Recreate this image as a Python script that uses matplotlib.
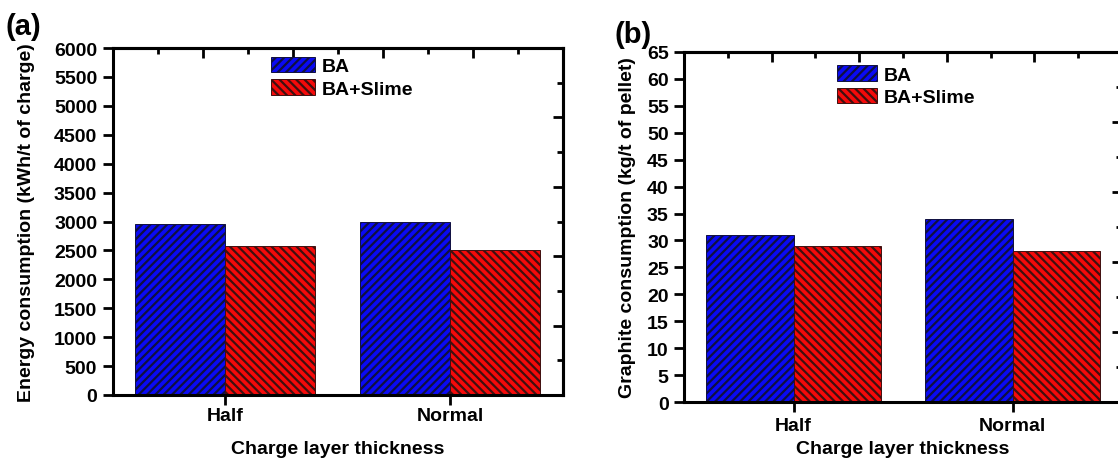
import matplotlib
matplotlib.use('Agg')
import matplotlib.pyplot as plt
import numpy as np
from matplotlib.ticker import NullFormatter

categories = ['Half', 'Normal']
series_names = ['BA', 'BA+Slime']
energy_ba = [2960, 3000]
energy_slime = [2570, 2500]
graphite_ba = [31, 34]
graphite_slime = [29, 28]

plt.rcParams['font.family'] = ['Liberation Sans', 'DejaVu Sans']
plt.rcParams['font.weight'] = 'bold'
plt.rcParams['axes.labelweight'] = 'bold'
plt.rcParams['hatch.linewidth'] = 1.6
plt.rcParams['hatch.color'] = 'black'
plt.rcParams['font.size'] = 14

W, H = 1118, 460
fig = plt.figure(figsize=(W / 100, H / 100), dpi=100)


def pos(l, r, t, b):
    return [l / W, 1 - b / H, (r - l) / W, (b - t) / H]


BLUE = '#0a0af5'
RED = '#f50a0a'
FS = 14


def panel(rect, ba, sl, ymax, ystep, ylabel, ylabelpad, legxy, hl, tag, tagxy,
          xpad, xlabpad):
    ax = fig.add_axes(rect)
    x = np.arange(1, len(categories) + 1)
    w = 0.4
    ax.bar(x - w / 2, ba, w, color=BLUE, edgecolor='#101040', hatch='////',
           linewidth=0.7, label=series_names[0])
    ax.bar(x + w / 2, sl, w, color=RED, edgecolor='#401010', hatch='\\\\\\\\',
           linewidth=0.7, label=series_names[1])
    ax.set_xlim(0.5, 2.5)
    ax.set_ylim(0, ymax)
    ax.set_yticks(np.arange(0, ymax + ystep / 2, ystep))
    ax.set_xticks(x)
    ax.set_xticklabels(categories)
    for s in ax.spines.values():
        s.set_linewidth(2.2)
    ax.tick_params(axis='both', which='major', direction='out', length=7,
                   width=2, pad=4, labelsize=FS)
    ax.tick_params(axis='x', pad=xpad)
    ax.set_ylabel(ylabel, fontsize=FS, labelpad=ylabelpad)
    ax.set_xlabel('Charge layer thickness', fontsize=FS, labelpad=xlabpad)

    top = ax.secondary_xaxis('top')
    step = 2.0 / 5
    top.set_xticks([0.5 + step * k for k in range(1, 5)])
    top.set_xticks([0.5 + step * (k + 0.5) for k in range(5)], minor=True)
    top.xaxis.set_major_formatter(NullFormatter())
    top.tick_params(which='major', direction='in', length=7, width=2)
    top.tick_params(which='minor', direction='in', length=4, width=2)
    top.spines['top'].set_linewidth(2.2)

    right = ax.secondary_yaxis('right')
    ys = ymax / 5
    right.set_yticks([ys * k for k in range(1, 5)])
    right.set_yticks([ys * (k + 0.5) for k in range(5)], minor=True)
    right.yaxis.set_major_formatter(NullFormatter())
    right.tick_params(which='major', direction='in', length=7, width=2)
    right.tick_params(which='minor', direction='in', length=4, width=2)
    right.spines['right'].set_linewidth(2.2)

    ax.legend(loc='upper left', bbox_to_anchor=legxy, frameon=False,
              fontsize=FS, handlelength=hl, handleheight=0.85,
              handletextpad=0.35, labelspacing=0.2, borderpad=0,
              borderaxespad=0)
    fig.text(tagxy[0] / W, 1 - tagxy[1] / H, tag, fontsize=21,
             fontweight='bold', ha='left', va='top')
    return ax


panel(pos(112.5, 562.5, 49, 396), energy_ba, energy_slime, 6000, 500,
      'Energy consumption (kWh/t of charge)', 14, (0.352, 0.975), 2.25,
      '(a)', (6, 13), 2, 11)
panel(pos(684, 1122, 53, 403), graphite_ba, graphite_slime, 65, 5,
      'Graphite consumption (kg/t of pellet)', 8, (0.349, 0.962), 2.05,
      '(b)', (615, 21), 4, 4)

fig.savefig('out.png', dpi=100)
